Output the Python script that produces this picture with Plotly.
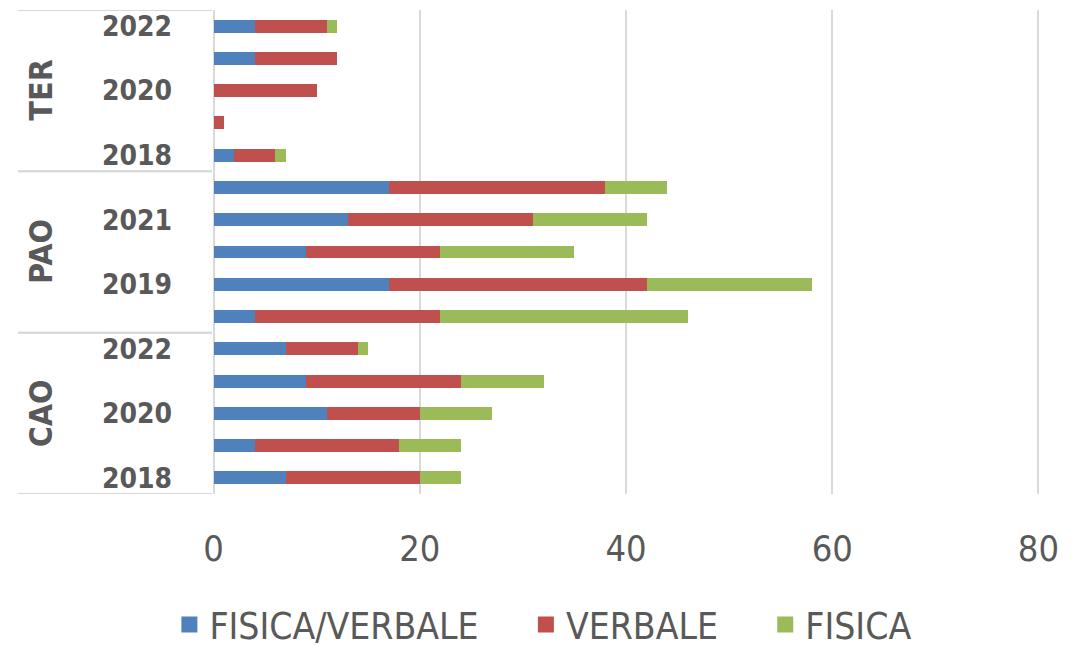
import plotly.graph_objects as go

# Data (bottom to top as drawn)
groups = ["CAO"] * 5 + ["PAO"] * 5 + ["TER"] * 5
years = ["2018", "2019", "2020", "2021", "2022"] * 3
fisica_verbale = [7, 4, 11, 9, 7, 4, 17, 9, 13, 17, 2, 0, 0, 4, 4]
verbale = [13, 14, 9, 15, 7, 18, 25, 13, 18, 21, 4, 1, 10, 8, 7]
fisica = [4, 6, 7, 8, 1, 24, 16, 13, 11, 6, 1, 0, 0, 0, 1]
group_names = ["CAO", "PAO", "TER"]
x_ticks = [0, 20, 40, 60, 80]

series = [
    ("FISICA/VERBALE", fisica_verbale, "#4F81BD"),
    ("VERBALE", verbale, "#C0504D"),
    ("FISICA", fisica, "#9BBB59"),
]

FONT = "Liberation Sans Narrow, DejaVu Sans Condensed, Arial Narrow, Liberation Sans, sans-serif"
TXT = "#595959"
GRID = "#D9D9D9"

pos = list(range(len(years)))

fig = go.Figure()
for name, vals, color in series:
    fig.add_trace(go.Bar(
        y=pos, x=vals, name=name, orientation="h",
        marker=dict(color=color, line=dict(width=0)),
        width=0.4, showlegend=False,
    ))
# legend entries with larger square swatches
for i, (name, vals, color) in enumerate(series):
    pad = "\u00a0" * 4 if i < len(series) - 1 else ""
    fig.add_trace(go.Scatter(
        x=[None], y=[None], mode="markers", name=name + pad,
        marker=dict(symbol="square", size=22, color=color),
        showlegend=True,
    ))

tickvals = pos[::2]
ticktext = [years[i] for i in tickvals]

annotations = []
shapes = []
x_left = -(212 - 18) / 828
for g in group_names:
    idx = [i for i, gg in enumerate(groups) if gg == g]
    center = sum(idx) / len(idx)
    annotations.append(dict(
        x=-(212 - 41) / 828, xref="paper", y=center, yref="y",
        text="<b>%s</b>" % g, textangle=-90, showarrow=False,
        font=dict(family=FONT, size=32, color=TXT),
        xanchor="center", yanchor="middle",
    ))
    for b in (min(idx) - 0.5, max(idx) + 0.5):
        shapes.append(dict(
            type="line", xref="paper", yref="y",
            x0=x_left, x1=0, y0=b, y1=b,
            line=dict(color=GRID, width=2), layer="below",
        ))

fig.update_layout(
    width=1076, height=649,
    margin=dict(l=212, r=36, t=10, b=155, autoexpand=False),
    paper_bgcolor="white", plot_bgcolor="white",
    barmode="stack",
    font=dict(family=FONT, color=TXT),
    showlegend=True,
    legend=dict(
        orientation="h", xref="container", yref="container",
        x=0.505, y=0.037, xanchor="center", yanchor="middle",
        font=dict(family=FONT, size=37, color=TXT),
        traceorder="normal", itemsizing="trace",
    ),
    annotations=annotations,
    shapes=shapes,
)
fig.update_xaxes(
    range=[-0.15, 80.15], tickvals=x_ticks,
    showgrid=True, gridcolor=GRID, gridwidth=2,
    zeroline=False, showline=False, automargin=False,
    tickfont=dict(family=FONT, size=36, color=TXT),
    ticks="", ticklabelstandoff=30,
)
fig.update_yaxes(
    range=[-0.5, 14.5], tickvals=tickvals, ticktext=["<b>%s</b>" % t for t in ticktext],
    showgrid=False, zeroline=False, showline=False, automargin=False,
    tickfont=dict(family=FONT, size=28, color=TXT),
    ticks="", ticklabelstandoff=39,
)

fig.write_html("out.html", config={"displayModeBar": False},
               post_script="document.body.style.margin='0';")
